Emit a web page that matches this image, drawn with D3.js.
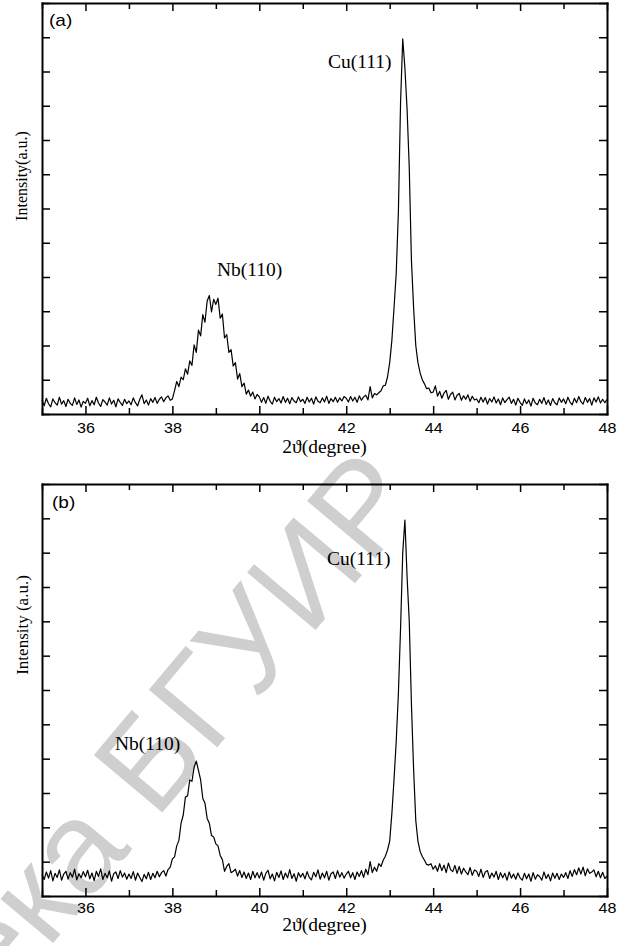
<!DOCTYPE html>
<html>
<head>
<meta charset="utf-8">
<script src="https://cdn.jsdelivr.net/npm/d3@7"></script>
<style>
body { margin: 0; background: #fff; }
</style>
</head>
<body>
<script>
// scan grid: 35..48 deg, 0.05 deg step
const angleStart = 35;
const angleStep = 0.05;

// intensities (a.u. x100), one row per degree
const intensityA = [
    40,24,46,30,21,44,33,26,49,29,39,22,43,31,25,47,28,41,20,37,
    31,46,24,39,27,49,32,22,42,35,26,47,29,40,21,44,34,25,43,30,
    38,27,47,33,24,43,56,30,41,26,45,34,48,31,43,50,36,47,53,40,
    44,68,95,80,108,100,132,116,155,142,202,180,245,228,290,268,330,346,298,335,
    320,338,280,292,222,232,180,188,140,150,102,118,80,90,58,70,52,64,44,57,
    50,34,48,31,52,37,29,49,36,45,32,51,34,46,30,48,38,33,50,36,
    43,31,49,35,46,29,50,37,33,47,35,52,31,45,36,49,34,47,38,51,
    46,35,51,38,49,34,53,40,50,55,41,80,47,60,56,62,68,82,84,108,
    150,215,310,410,590,910,1095,1010,890,720,450,310,200,150,120,100,88,74,76,62,
    64,82,52,66,46,61,69,43,57,64,41,55,60,40,53,43,56,37,52,41,
    44,33,49,35,48,29,45,35,50,32,44,27,47,33,42,49,31,43,26,46,
    34,25,44,30,41,23,46,32,27,43,31,48,28,41,25,45,33,27,47,34,
    44,30,49,35,27,46,33,51,36,29,48,34,45,26,47,35,50,32,43,33,
    42
];

const intensityB = [
    63,48,70,52,74,44,66,54,76,46,64,72,49,68,55,78,47,65,53,71,
    56,75,50,67,45,72,57,79,48,66,53,73,43,65,70,51,74,55,67,49,
    64,51,71,46,67,54,42,63,50,69,48,66,53,72,56,68,74,58,77,84,
    108,114,146,162,212,236,288,292,338,334,375,393,366,338,284,270,226,212,176,172,
    152,146,118,106,72,86,94,68,72,78,58,74,54,70,51,67,48,72,53,68,
    52,70,46,66,75,50,64,44,69,54,73,48,67,53,77,51,65,43,68,55,
    66,50,71,54,47,69,56,76,49,67,53,72,46,65,70,51,74,55,68,52,
    64,72,53,68,48,70,57,74,54,78,62,100,68,84,72,94,86,104,116,134,
    160,240,340,450,590,780,1000,1095,930,800,560,370,220,160,130,115,104,92,90,94,
    78,88,72,94,74,90,68,96,77,71,89,66,86,64,81,70,62,83,60,76,
    72,57,78,54,70,74,51,67,55,72,48,68,53,66,46,70,52,64,49,67,
    53,46,66,50,64,43,68,49,62,57,46,70,51,63,44,67,52,66,48,64,
    54,68,51,74,57,77,62,82,64,84,59,79,66,70,76,56,72,53,69,51,
    58
];

const xTicks = [35,36,37,38,39,40,41,42,43,44,45,46,47,48];
const xTickLabels = [36,38,40,42,44,46,48];
const yTicks = [0,100,200,300,400,500,600,700,800,900,1000,1100,1200];
const peakNames = ["Nb(110)", "Cu(111)"];

const width = 629;
const height = 946;
const left = 42, right = 607;

const svg = d3.select("body").append("svg")
    .attr("width", width)
    .attr("height", height);

//watermark behind everything
svg.append("text")
    .text("Библиотека БГУИР")
    .attr("transform", "translate(-322,1390) rotate(-50)")
    .attr("font-family", "'Liberation Sans', Arial, sans-serif")
    .attr("font-size", 130)
    .attr("fill", "#cfcfcf");

const panels = [
    {tag: "(a)", data: intensityA, top: 3, bottom: 414, pad: 9.5, xLabelY: 453,
     yLabel: "Intensity(a.u.)", yLabelX: 27, yLabelY: 176, yLabelSize: 16,
     tagX: 49, tagY: 26, nb: [217, 276], cu: [328, 68]},
    {tag: "(b)", data: intensityB, top: 484, bottom: 896, pad: 7.5, xLabelY: 931,
     yLabel: "Intensity (a.u.)", yLabelX: 27.5, yLabelY: 625, yLabelSize: 17,
     tagX: 52, tagY: 508, nb: [115, 750], cu: [327, 565]}
];

const serif = "'Liberation Serif', 'Times New Roman', serif";
const sans = "'Liberation Sans', Arial, sans-serif";

panels.forEach(function (p) {
    const x = d3.scaleLinear().domain([35, 48]).range([left, right]);
    const y = d3.scaleLinear().domain([0, 1200]).range([p.bottom, p.top]);
    const g = svg.append("g");

    //the scan
    const line = d3.line()
        .x((d, i) => x(angleStart + i * angleStep))
        .y(d => y(d));
    g.append("path")
        .datum(p.data)
        .attr("d", line)
        .attr("fill", "none")
        .attr("stroke", "#000")
        .attr("stroke-width", 1.2)
        .attr("stroke-linejoin", "round");

    //axes, all ticks inward
    const bottomAxis = g.append("g")
        .attr("transform", `translate(0,${p.bottom})`)
        .call(d3.axisBottom(x).tickValues(xTicks).tickSize(-8).tickSizeOuter(0)
            .tickPadding(p.pad)
            .tickFormat(d => xTickLabels.includes(d) ? d : ""));
    const topAxis = g.append("g")
        .attr("transform", `translate(0,${p.top})`)
        .call(d3.axisTop(x).tickValues(xTicks).tickSize(-8).tickSizeOuter(0).tickFormat(""));
    const leftAxis = g.append("g")
        .attr("transform", `translate(${left},0)`)
        .call(d3.axisLeft(y).tickValues(yTicks).tickSize(-8).tickSizeOuter(0).tickFormat(""));
    const rightAxis = g.append("g")
        .attr("transform", `translate(${right},0)`)
        .call(d3.axisRight(y).tickValues(yTicks).tickSize(-8).tickSizeOuter(0).tickFormat(""));

    //odd degrees get shorter ticks
    bottomAxis.selectAll(".tick").filter(d => d % 2 === 1).select("line").attr("y2", -6);
    topAxis.selectAll(".tick").filter(d => d % 2 === 1).select("line").attr("y2", 6);

    [bottomAxis, topAxis, leftAxis, rightAxis].forEach(function (a) {
        a.select(".domain").attr("stroke-width", 2).attr("stroke-linecap", "square");
        a.selectAll(".tick line").attr("stroke-width", 1.5);
    });

    bottomAxis.attr("font-family", sans).attr("font-size", 14);
    bottomAxis.selectAll("text")
        .attr("fill", "#000")
        .attr("transform", "scale(1.15,1)");

    //labels
    g.append("text")
        .text("2ϑ(degree)")
        .attr("x", (left + right) / 2)
        .attr("y", p.xLabelY)
        .attr("text-anchor", "middle")
        .attr("font-family", serif)
        .attr("font-size", 19.5);

    g.append("text")
        .text(p.yLabel)
        .attr("transform", `translate(${p.yLabelX},${p.yLabelY}) rotate(-90)`)
        .attr("text-anchor", "middle")
        .attr("font-family", serif)
        .attr("font-size", p.yLabelSize);

    g.append("text")
        .text(p.tag)
        .attr("transform", `translate(${p.tagX},${p.tagY}) scale(1.12,1)`)
        .attr("font-family", sans)
        .attr("font-size", 17);

    g.append("text")
        .text(peakNames[0])
        .attr("x", p.nb[0])
        .attr("y", p.nb[1])
        .attr("font-family", serif)
        .attr("font-size", 19.5);

    g.append("text")
        .text(peakNames[1])
        .attr("x", p.cu[0])
        .attr("y", p.cu[1])
        .attr("font-family", serif)
        .attr("font-size", 19.5);
});
</script>
</body>
</html>
